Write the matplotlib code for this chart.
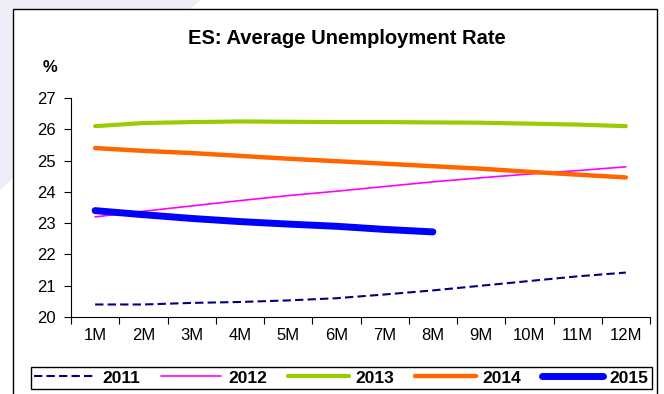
import matplotlib
matplotlib.use("Agg")
import matplotlib.pyplot as plt
from matplotlib.patches import Rectangle, Polygon
from matplotlib.ticker import FixedLocator

plt.rcParams['font.family'] = ['Liberation Sans', 'DejaVu Sans']

months = ['1M', '2M', '3M', '4M', '5M', '6M', '7M', '8M', '9M', '10M', '11M', '12M']
y2011 = [20.4, 20.4, 20.45, 20.48, 20.53, 20.6, 20.72, 20.85, 21.0, 21.15, 21.3, 21.42]
y2012 = [23.2, 23.38, 23.55, 23.72, 23.88, 24.02, 24.17, 24.32, 24.45, 24.57, 24.68, 24.8]
y2013 = [26.1, 26.2, 26.23, 26.25, 26.24, 26.23, 26.23, 26.22, 26.21, 26.18, 26.15, 26.1]
y2014 = [25.4, 25.31, 25.24, 25.15, 25.06, 24.98, 24.9, 24.82, 24.74, 24.64, 24.55, 24.46]
y2015 = [23.4, 23.27, 23.15, 23.05, 22.97, 22.9, 22.8, 22.72]

W, H = 664, 394
fig = plt.figure(figsize=(W / 100, H / 100), dpi=100)

# decorative lavender shape and outer frame
fig.patches.append(Polygon([(0, 1), (200 / W, 1), (0, 1 - 190 / H)], closed=True,
                           transform=fig.transFigure, facecolor='#eeedf7', edgecolor='none', zorder=-3))
fig.patches.append(Rectangle((13 / W, -0.05), (657 - 13) / W, 1.05 - 9 / H,
                             transform=fig.transFigure, facecolor='white', edgecolor='black',
                             linewidth=1.0, zorder=-2))

ax = fig.add_axes([71 / W, 1 - 317 / H, (650 - 71) / W, (317 - 98) / H])
ax.set_facecolor('none')
ax.set_zorder(1)

x = list(range(len(months)))
ax.plot(x, y2011, color='#000080', lw=1.5, ls=(0, (4, 2)), label='2011')
ax.plot(x, y2012, color='#FF00FF', lw=1.2, label='2012', solid_capstyle='round')
ax.plot(x, y2013, color='#99CC00', lw=3.0, label='2013', solid_capstyle='round')
ax.plot(x, y2014, color='#FF6600', lw=3.2, label='2014', solid_capstyle='round')
ax.plot(range(len(y2015)), y2015, color='#0000FF', lw=5.0, label='2015', solid_capstyle='round')

ax.set_xlim(-0.5, len(months) - 0.5)
ax.set_ylim(20, 27)
ax.set_yticks(range(20, 28))
ax.xaxis.set_major_locator(FixedLocator([i - 0.5 for i in range(len(months) + 1)]))
ax.xaxis.set_minor_locator(FixedLocator(x))
ax.set_xticklabels([])
ax.set_xticklabels(months, minor=True)
ax.tick_params(axis='x', which='major', direction='out', length=5, width=0.8)
ax.tick_params(axis='x', which='minor', length=0, pad=8, labelsize=12)
ax.tick_params(axis='y', direction='out', length=5, width=0.8, labelsize=12, pad=6)
for s in ['top', 'right']:
    ax.spines[s].set_visible(False)
for s in ['left', 'bottom']:
    ax.spines[s].set_linewidth(0.8)

fig.text(347 / W, 1 - 38 / H, 'ES: Average Unemployment Rate', ha='center', va='center',
         fontsize=14.5, fontweight='bold')
fig.text(50 / W, 1 - 68 / H, '%', ha='center', va='center', fontsize=12, fontweight='bold')

leg = fig.legend(loc='lower left', ncol=5, mode='expand',
                 bbox_to_anchor=(31 / W, 1 - 389 / H, (652 - 31) / W, 25 / H),
                 prop={'weight': 'bold', 'size': 12.5}, handlelength=3.5, handletextpad=0.4,
                 columnspacing=0.8, borderaxespad=0, borderpad=0.2, fancybox=False,
                 edgecolor='black', framealpha=1)
leg.get_frame().set_linewidth(1.0)

fig.savefig('out.png', dpi=100)
